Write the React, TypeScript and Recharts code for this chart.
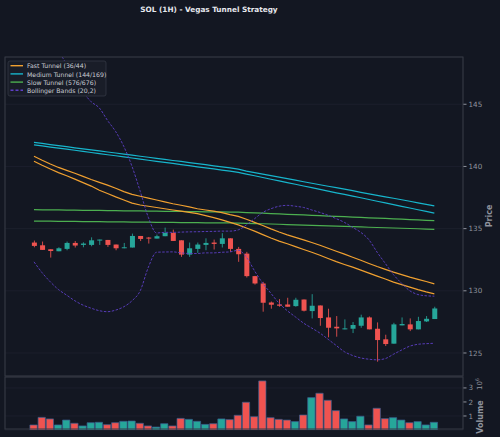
import React from 'react';
import { ComposedChart, Bar, Line, XAxis, YAxis, CartesianGrid, Cell } from 'recharts';

const OPEN = [133.88,133.66,133.34,133.18,133.37,133.85,133.69,133.69,134.04,134.09,133.72,133.42,133.48,134.41,134.28,134.20,134.39,134.65,134.06,132.91,133.37,133.69,133.88,133.77,134.22,133.37,132.99,131.18,130.59,129.06,128.90,128.90,128.77,129.30,128.37,128.82,127.86,127.11,126.90,126.95,127.19,127.86,126.95,126.10,125.75,127.22,127.30,126.90,127.54,127.73];
const HIGH = [134.04,133.96,133.34,133.50,133.96,134.00,133.90,134.30,134.12,134.09,133.72,133.85,134.60,134.41,134.33,134.52,135.08,134.92,134.06,133.88,133.88,134.22,134.12,134.63,134.22,133.53,133.13,131.20,130.72,129.14,129.33,129.44,129.44,129.30,129.73,128.82,128.56,127.97,127.70,127.49,128.08,127.94,127.46,126.47,127.43,127.86,127.78,127.91,127.97,128.72];
const LOW = [133.50,133.29,132.67,133.18,133.26,133.48,133.50,133.58,133.69,133.53,133.26,133.42,133.48,134.00,133.80,134.20,134.39,134.01,132.73,132.73,133.05,133.26,133.32,133.48,133.13,132.33,131.07,130.50,128.32,128.56,128.72,128.72,128.72,128.34,127.78,127.19,126.26,126.31,126.90,126.60,127.03,126.90,124.30,125.56,125.75,127.22,126.76,126.90,127.49,127.73];
const CLOSE = [133.61,133.29,133.20,133.42,133.85,133.64,133.80,134.06,134.12,133.69,133.42,133.50,134.41,134.17,134.20,134.39,134.65,134.01,132.91,133.42,133.72,133.85,133.77,134.22,133.37,132.94,131.18,130.59,129.04,128.88,128.80,128.72,129.28,128.40,128.80,127.81,127.03,126.98,126.98,127.25,127.86,126.90,126.04,125.72,127.30,127.33,126.90,127.57,127.75,128.58];
const VOLUME_M = [0.36,0.90,0.79,0.36,0.71,0.48,0.29,0.52,0.55,0.38,0.52,0.62,0.64,0.48,0.29,0.21,0.45,0.29,0.83,0.76,0.62,0.40,0.45,0.79,0.74,1.05,1.98,0.95,3.50,0.88,0.76,0.71,0.60,1.07,2.31,2.62,2.12,1.38,0.79,0.60,0.98,0.36,1.55,0.81,0.88,0.71,0.52,0.60,0.36,0.55];

const FAST_UP = [140.82,140.50,140.20,139.92,139.68,139.45,139.20,138.95,138.72,138.50,138.25,137.98,137.75,137.60,137.45,137.30,137.15,137.00,136.88,136.75,136.60,136.50,136.40,136.28,136.12,135.98,135.75,135.50,135.25,134.98,134.73,134.50,134.30,134.10,133.88,133.66,133.42,133.18,132.95,132.70,132.46,132.20,131.95,131.72,131.50,131.30,131.10,130.92,130.75,130.56];
const FAST_LO = [140.42,140.10,139.80,139.50,139.25,138.98,138.70,138.42,138.08,137.82,137.55,137.30,137.05,136.90,136.80,136.70,136.60,136.50,136.40,136.30,136.20,136.05,135.88,135.70,135.50,135.30,135.05,134.80,134.52,134.25,134.00,133.78,133.55,133.32,133.10,132.86,132.60,132.35,132.12,131.90,131.66,131.42,131.18,130.95,130.70,130.50,130.30,130.10,129.92,129.76];
const MED_UP = [141.93,141.85,141.76,141.67,141.59,141.50,141.42,141.33,141.25,141.16,141.08,140.99,140.91,140.82,140.74,140.65,140.57,140.48,140.40,140.31,140.22,140.14,140.05,139.97,139.88,139.78,139.62,139.50,139.38,139.26,139.14,139.02,138.90,138.77,138.65,138.53,138.41,138.29,138.17,138.05,137.92,137.80,137.68,137.56,137.44,137.32,137.20,137.07,136.95,136.83];
const MED_LO = [141.74,141.65,141.56,141.47,141.39,141.30,141.21,141.12,141.03,140.94,140.86,140.77,140.68,140.59,140.50,140.41,140.33,140.24,140.15,140.06,139.97,139.88,139.80,139.71,139.62,139.52,139.38,139.25,139.11,138.97,138.84,138.70,138.57,138.43,138.29,138.16,138.02,137.88,137.75,137.61,137.48,137.34,137.20,137.07,136.93,136.79,136.66,136.52,136.39,136.25];
const SLOW_UP = [136.52,136.51,136.50,136.50,136.49,136.48,136.47,136.46,136.46,136.45,136.44,136.43,136.42,136.42,136.41,136.40,136.39,136.38,136.38,136.37,136.36,136.35,136.34,136.34,136.33,136.32,136.29,136.26,136.24,136.21,136.18,136.15,136.12,136.10,136.07,136.04,136.01,135.98,135.96,135.93,135.90,135.87,135.84,135.82,135.79,135.76,135.73,135.70,135.67,135.64];
const SLOW_LO = [135.61,135.60,135.60,135.59,135.58,135.58,135.57,135.57,135.56,135.55,135.55,135.54,135.53,135.53,135.52,135.51,135.51,135.50,135.49,135.49,135.48,135.47,135.47,135.46,135.46,135.45,135.43,135.41,135.39,135.37,135.35,135.32,135.30,135.28,135.26,135.24,135.22,135.20,135.18,135.16,135.14,135.11,135.09,135.07,135.05,135.03,135.01,134.99,134.96,134.94];
const BB_UP = [151.5,151.0,150.3,149.3,148.2,147.1,146.0,145.2,144.7,143.7,142.8,141.6,140.0,138.0,135.9,134.65,134.70,134.70,134.72,134.74,134.75,134.77,134.78,134.80,134.80,134.90,135.30,135.80,136.30,136.60,136.80,136.87,136.80,136.70,136.50,136.30,136.07,135.80,135.50,135.10,134.70,134.10,133.10,132.20,131.30,130.60,130.00,129.70,129.60,129.57];
const BB_LO = [132.33,131.45,130.72,130.10,129.65,129.20,128.85,128.60,128.40,128.32,128.45,128.72,129.20,130.00,131.90,133.10,133.12,133.13,133.05,133.00,133.00,133.05,133.05,133.10,133.13,133.26,132.70,131.60,130.60,129.80,129.00,128.40,127.90,127.40,127.00,126.60,126.10,125.60,125.10,124.80,124.60,124.50,124.45,124.55,124.90,125.24,125.55,125.70,125.75,125.78];

const PRICE_TICKS = [125, 130, 135, 140, 145];
const VOLUME_TICKS = [1, 2, 3];
const LEGEND_ITEMS = [
  { label: 'Fast Tunnel (36/44)', color: '#f0a030', dash: undefined },
  { label: 'Medium Tunnel (144/169)', color: '#17b5cc', dash: undefined },
  { label: 'Slow Tunnel (576/676)', color: '#4caf50', dash: undefined },
  { label: 'Bollinger Bands (20,2)', color: '#5e3fc7', dash: '3 2' },
];

const BG = '#131722';
const GREEN = '#26a69a';
const RED = '#ef5350';
const GRID = '#1f2330';
const SPINE = '#363a45';
const TXT = '#8f939d';
const FONT = 'DejaVu Sans, sans-serif';

const n = OPEN.length;
const rows = Array.from({ length: n + 1 }, (_, i) => ({
  i,
  open: i < n ? OPEN[i] : null,
  high: i < n ? HIGH[i] : null,
  low: i < n ? LOW[i] : null,
  close: i < n ? CLOSE[i] : null,
  vol: i < n ? VOLUME_M[i] : null,
  fu: i < n ? FAST_UP[i] : null,
  fl: i < n ? FAST_LO[i] : null,
  mu: i < n ? MED_UP[i] : null,
  ml: i < n ? MED_LO[i] : null,
  su: i < n ? SLOW_UP[i] : null,
  sl: i < n ? SLOW_LO[i] : null,
  bu: i < n ? BB_UP[i] : null,
  bl: i < n ? BB_LO[i] : null,
}));

const Candle = (props: any) => {
  const { x, y, width, height, payload } = props;
  if (!payload || payload.high == null) return null;
  const top = Math.min(y, y + height);
  const h = Math.abs(height);
  const range = payload.high - payload.low;
  const toPx = (v: number) => (range === 0 ? top : top + ((payload.high - v) / range) * h);
  const up = payload.close >= payload.open;
  const color = up ? GREEN : RED;
  const bTop = toPx(Math.max(payload.open, payload.close));
  const bBot = toPx(Math.min(payload.open, payload.close));
  const cx = x + width / 2;
  return (
    <g>
      <line x1={cx} x2={cx} y1={top} y2={top + h} stroke={color} strokeOpacity={0.85} strokeWidth={1} />
      <rect x={x} y={bTop} width={width} height={Math.max(bBot - bTop, 1)} fill={color} />
    </g>
  );
};

const X_PAD = { left: 24.9, right: 16.4 };

export default function App() {
  return (
    <div style={{ position: 'absolute', left: 0, top: 0, width: 500, height: 437, background: BG, overflow: 'hidden', fontFamily: FONT }}>
      <div style={{ position: 'absolute', left: 0, top: 0 }}>
        <ComposedChart width={500} height={437} data={rows} margin={{ top: 57, right: 7, bottom: 61, left: 5 }}>
          <CartesianGrid stroke={GRID} strokeWidth={0.7} />
          <XAxis dataKey="i" type="category" interval={9} padding={X_PAD} height={0} tick={false} tickLine={false} axisLine={false} />
          <YAxis
            orientation="right"
            width={30}
            domain={[123.15, 148.8]}
            allowDataOverflow
            ticks={PRICE_TICKS}
            tick={{ fill: TXT, fontSize: 7.2, fontFamily: FONT }}
            tickLine={{ stroke: TXT }}
            tickSize={3.5}
            axisLine={false}
          />
          <Bar dataKey={(d: any) => (d.high == null ? null : [d.low, d.high])} barSize={5} shape={<Candle />} isAnimationActive={false} />
          <Line type="linear" dataKey="su" stroke="#4caf50" strokeWidth={1.2} dot={false} isAnimationActive={false} />
          <Line type="linear" dataKey="sl" stroke="#4caf50" strokeWidth={1.2} dot={false} isAnimationActive={false} />
          <Line type="linear" dataKey="mu" stroke="#17b5cc" strokeWidth={1.2} dot={false} isAnimationActive={false} />
          <Line type="linear" dataKey="ml" stroke="#17b5cc" strokeWidth={1.2} dot={false} isAnimationActive={false} />
          <Line type="linear" dataKey="fu" stroke="#f0a030" strokeWidth={1.2} dot={false} isAnimationActive={false} />
          <Line type="linear" dataKey="fl" stroke="#f0a030" strokeWidth={1.2} dot={false} isAnimationActive={false} />
          <Line type="monotone" dataKey="bu" stroke="#5e3fc7" strokeWidth={0.9} strokeDasharray="2.5 1.5" dot={false} isAnimationActive={false} />
          <Line type="monotone" dataKey="bl" stroke="#5e3fc7" strokeWidth={0.9} strokeDasharray="2.5 1.5" dot={false} isAnimationActive={false} />
        </ComposedChart>
      </div>
      <div style={{ position: 'absolute', left: 0, top: 0 }}>
        <ComposedChart width={500} height={437} data={rows} margin={{ top: 377, right: 7, bottom: 2, left: 5 }}>
          <CartesianGrid stroke={GRID} strokeWidth={0.7} />
          <XAxis dataKey="i" type="category" interval={9} padding={X_PAD} height={5} tick={false} tickLine={{ stroke: TXT }} tickSize={3} axisLine={false} />
          <YAxis
            orientation="right"
            width={30}
            domain={[0, 3.78]}
            allowDataOverflow
            ticks={VOLUME_TICKS}
            tick={{ fill: TXT, fontSize: 7.2, fontFamily: FONT }}
            tickLine={{ stroke: TXT }}
            tickSize={3.5}
            axisLine={false}
          />
          <Bar dataKey="vol" barSize={7.3} stroke="#3a5f8f" strokeWidth={0.7} isAnimationActive={false}>
            {rows.map((r, k) => (
              <Cell key={k} fill={r.close != null && r.open != null && r.close >= r.open ? GREEN : RED} />
            ))}
          </Bar>
        </ComposedChart>
      </div>
      <svg width={500} height={437} style={{ position: 'absolute', left: 0, top: 0, pointerEvents: 'none' }}>
        <text x={209} y={9} textAnchor="middle" dominantBaseline="central" fill="#e6e8ee" fontSize={7.3} fontWeight="bold" fontFamily={FONT}>
          SOL (1H) - Vegas Tunnel Strategy
        </text>
        <rect x={5} y={57} width={458} height={319} fill="none" stroke={SPINE} strokeWidth={1} />
        <rect x={5} y={377} width={458} height={52} fill="none" stroke={SPINE} strokeWidth={1} />
        <rect x={8} y={61} width={98} height={35} rx={2} fill="#191d28" stroke="#343844" strokeWidth={0.8} />
        {LEGEND_ITEMS.map((it, k) => (
          <g key={k}>
            <line x1={10.5} x2={23} y1={65.7 + k * 8.2} y2={65.7 + k * 8.2} stroke={it.color} strokeWidth={1.4} strokeDasharray={it.dash} />
            <text x={27} y={65.9 + k * 8.2} dominantBaseline="central" fill="#c9ccd3" fontSize={6.2} fontFamily={FONT}>
              {it.label}
            </text>
          </g>
        ))}
        <text transform="translate(489,216) rotate(-90)" textAnchor="middle" dominantBaseline="central" fill={TXT} fontSize={8} fontWeight="bold" fontFamily={FONT}>
          Price
        </text>
        <text transform="translate(480,417) rotate(-90)" textAnchor="middle" dominantBaseline="central" fill={TXT} fontSize={8} fontWeight="bold" fontFamily={FONT}>
          Volume
        </text>
        <text transform="translate(480,384) rotate(-90)" textAnchor="middle" dominantBaseline="central" fill={TXT} fontSize={7} fontFamily={FONT}>
          <tspan>10</tspan>
          <tspan dy={-3} fontSize={5}>6</tspan>
        </text>
      </svg>
    </div>
  );
}
